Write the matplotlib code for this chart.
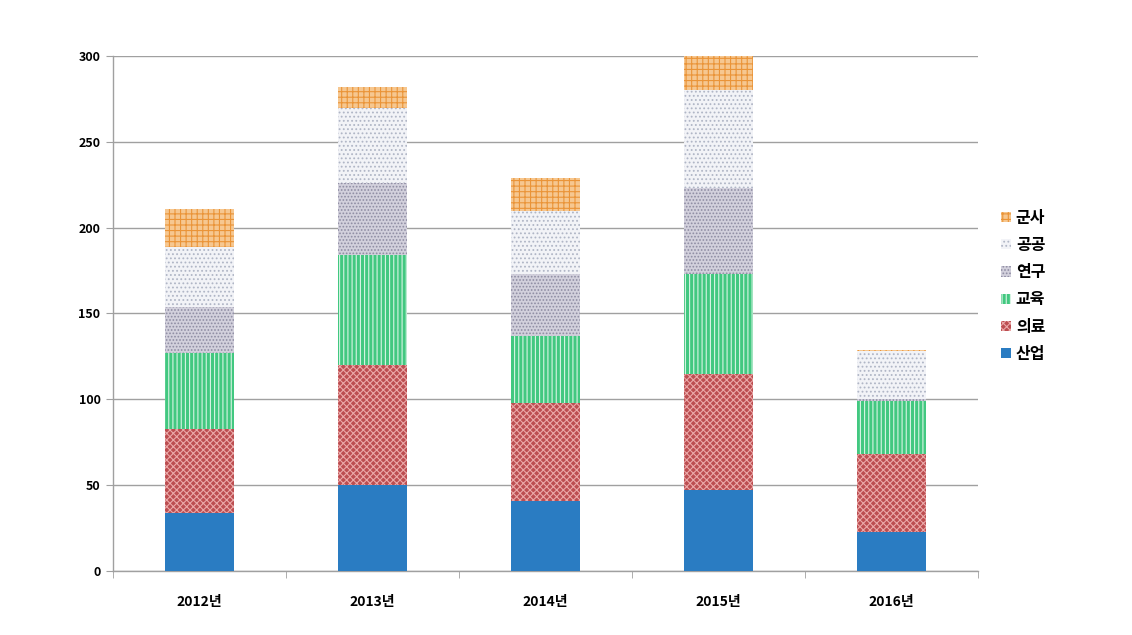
import matplotlib
matplotlib.use("Agg")
import matplotlib.pyplot as plt
import numpy as np
from matplotlib.patches import Patch

plt.rcParams['font.family'] = ['Noto Sans CJK KR', 'DejaVu Sans']
plt.rcParams['hatch.linewidth'] = 0.8

years = ['2012년', '2013년', '2014년', '2015년', '2016년']
series_names = ['산업', '의료', '교육', '연구', '공공', '군사']
industry = [34, 50, 41, 47, 23]
medical = [49, 70, 57, 68, 45]
education = [44, 64, 39, 58, 31]
research = [27, 42, 36, 50, 1]
public = [35, 44, 37, 57, 28]
military = [22, 12, 19, 20, 1]
yticks = [0, 50, 100, 150, 200, 250, 300]

data = [industry, medical, education, research, public, military]
styles = [
    dict(facecolor='#2a7cc2', hatch=None, edgecolor='#2a7cc2'),
    dict(facecolor='#bc4e51', hatch='xxxxx', edgecolor='#eaa8a8'),
    dict(facecolor='#42c880', hatch='||||', edgecolor='#d8f4e4'),
    dict(facecolor='#d2d0dc', hatch='.....', edgecolor='#8e8ca2'),
    dict(facecolor='#f2f3f7', hatch='....', edgecolor='#b0b6c6'),
    dict(facecolor='#f6c790', hatch='+++', edgecolor='#ea9438'),
]

fig = plt.figure(figsize=(11.32, 6.35), dpi=100)
ax = fig.add_axes([0.0998, 0.1008, 0.7642, 0.811])

x = np.arange(len(years))
bottom = np.zeros(len(years))
handles = []
for name, vals, st in zip(series_names, data, styles):
    ax.bar(x, vals, width=0.4, bottom=bottom, facecolor=st['facecolor'],
           hatch=st['hatch'], edgecolor=st['edgecolor'], linewidth=0, zorder=3)
    bottom += np.array(vals)
    handles.append(Patch(facecolor=st['facecolor'], hatch=st['hatch'],
                         edgecolor=st['edgecolor'], linewidth=0, label=name))

ax.set_xlim(-0.5, len(years) - 0.5)
ax.set_ylim(0, 300)
ax.set_yticks(yticks)
ax.set_yticklabels([str(v) for v in yticks], fontsize=9, fontweight='bold')
ax.set_xticks(x)
ax.set_xticklabels(years, fontsize=10, fontweight='bold')
ax.set_xticks(np.arange(len(years) + 1) - 0.5, minor=True)
ax.tick_params(axis='x', which='major', length=0, pad=17)
ax.tick_params(axis='x', which='minor', length=5, color='#a0a0a0', direction='out')
ax.tick_params(axis='y', length=5, color='#a0a0a0', direction='out', pad=4)
ax.yaxis.grid(True, color='#a0a0a0', linewidth=1, zorder=0)
ax.set_axisbelow(True)
for s in ['top', 'right']:
    ax.spines[s].set_visible(False)
for s in ['left', 'bottom']:
    ax.spines[s].set_color('#a0a0a0')
    ax.spines[s].set_linewidth(1)

leg = fig.legend(handles=handles[::-1], loc='center left',
                 bbox_to_anchor=(0.872, 0.55), frameon=False,
                 prop={'size': 11.5, 'weight': 'bold'}, handlelength=0.6,
                 handleheight=0.6, handletextpad=0.3, labelspacing=0.7)

fig.savefig('out.png', dpi=100)
